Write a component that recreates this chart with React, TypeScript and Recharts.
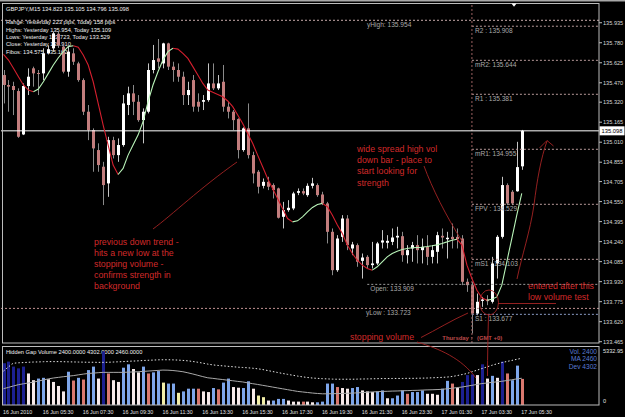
import React from 'react';
import { ComposedChart, Bar, Line, XAxis, YAxis, ReferenceLine, Cell } from 'recharts';

const FONT = '"Liberation Sans", Arial, sans-serif';

// GBPJPY M15 candles, 16 Jun 03:30 .. 17 Jun 05:30
const opens = [
  135.53, 135.453, 135.445, 135.406, 135.07, 135.445, 135.582, 135.546, 135.543, 135.7,
  135.737, 135.85, 135.75, 135.556, 135.698, 135.62, 135.491, 135.246, 135.104, 134.949,
  134.82, 134.691, 135.026, 134.91, 134.988, 135.298, 135.388, 135.323, 135.181, 135.246,
  135.569, 135.659, 135.62, 135.775, 135.595, 135.569, 135.517, 135.375, 135.491, 135.323,
  135.323, 135.336, 135.465, 135.427, 135.478, 135.285, 135.246, 135.189, 134.949, 135.117,
  134.91, 134.781, 134.672, 134.703, 134.678, 134.652, 134.432, 134.484, 134.497, 134.618,
  134.631, 134.6, 134.672, 134.678, 134.605, 134.536, 134.316, 134.019, 134.277, 134.419,
  134.187, 134.213, 134.091, 134.122, 134.058, 134.071, 134.233, 134.231, 134.238, 134.272,
  134.282, 134.135, 134.187, 134.213, 134.174, 134.2, 134.122, 134.161, 134.285, 134.259,
  134.277, 134.277, 134.264, 133.929, 133.903, 133.683, 133.781, 133.792, 133.774, 134.071,
  134.277, 134.678, 134.626, 134.63, 134.823,
];
const highs = [
  135.569, 135.491, 135.478, 135.427, 135.465, 135.582, 135.595, 135.569, 135.737, 135.76,
  135.866, 135.87, 135.775, 135.75, 135.737, 135.633, 135.504, 135.298, 135.117, 135.001,
  134.858, 135.052, 135.052, 135.039, 135.375, 135.44, 135.453, 135.375, 135.272, 135.62,
  135.763, 135.809, 135.78, 135.78, 135.633, 135.62, 135.556, 135.478, 135.53, 135.388,
  135.375, 135.62, 135.62, 135.53, 135.608, 135.323, 135.259, 135.195, 135.125, 135.31,
  134.936, 134.794, 134.729, 134.742, 134.691, 134.658, 134.548, 134.561, 134.626, 134.652,
  134.652, 134.691, 134.734, 134.691, 134.626, 134.548, 134.342, 134.29, 134.445, 134.445,
  134.238, 134.226, 134.148, 134.135, 134.238, 134.238, 134.329, 134.29, 134.342, 134.355,
  134.316, 134.213, 134.238, 134.29, 134.264, 134.29, 134.213, 134.316, 134.342, 134.316,
  134.38, 134.342, 134.29, 133.954, 133.929, 133.838, 133.812, 133.825, 134.122, 134.29,
  134.742, 134.691, 134.639, 135.013, 135.105,
];
const lows = [
  135.31, 135.246, 135.22, 135.044, 135.065, 135.375, 135.44, 135.375, 135.491, 135.69,
  135.711, 135.74, 135.543, 135.517, 135.608, 135.478, 135.22, 135.026, 134.781, 134.781,
  134.523, 134.587, 134.884, 134.858, 134.975, 135.22, 135.22, 135.168, 135.001, 135.233,
  135.543, 135.582, 135.582, 135.569, 135.478, 135.478, 135.298, 135.298, 135.246, 135.246,
  135.259, 135.323, 135.414, 135.414, 135.246, 135.194, 135.104, 134.884, 134.936, 134.884,
  134.691, 134.613, 134.652, 134.639, 134.574, 134.419, 134.342, 134.471, 134.484, 134.6,
  134.6, 134.587, 134.652, 134.587, 134.523, 134.226, 133.98, 134.006, 134.238, 134.174,
  134.135, 134.045, 133.954, 134.032, 134.032, 134.058, 134.187, 134.187, 134.213, 134.187,
  134.084, 134.071, 134.084, 134.071, 134.071, 134.058, 134.071, 134.071, 134.187, 134.109,
  134.187, 134.187, 133.903, 133.851, 133.529, 133.67, 133.735, 133.748, 133.761, 133.954,
  134.264, 134.523, 134.523, 134.626, 134.796,
];
const closes = [
  135.453, 135.44, 135.414, 135.052, 135.445, 135.517, 135.543, 135.543, 135.698, 135.73,
  135.853, 135.76, 135.556, 135.711, 135.633, 135.491, 135.246, 135.104, 134.962, 134.833,
  134.678, 135.026, 134.91, 134.988, 135.31, 135.388, 135.323, 135.181, 135.246, 135.569,
  135.646, 135.633, 135.775, 135.595, 135.569, 135.517, 135.375, 135.414, 135.285, 135.285,
  135.336, 135.465, 135.427, 135.465, 135.285, 135.246, 135.181, 134.949, 135.117, 134.91,
  134.768, 134.665, 134.703, 134.665, 134.639, 134.425, 134.484, 134.502, 134.613, 134.631,
  134.613, 134.672, 134.691, 134.6, 134.536, 134.316, 134.019, 134.264, 134.419, 134.213,
  134.218, 134.084, 134.117, 134.058, 134.071, 134.226, 134.249, 134.246, 134.272, 134.285,
  134.135, 134.174, 134.213, 134.174, 134.2, 134.122, 134.174, 134.29, 134.272, 134.27,
  134.259, 134.259, 133.929, 133.903, 133.683, 133.774, 133.792, 133.779, 134.071, 134.277,
  134.678, 134.536, 134.536, 134.817, 135.098,
];
// coloured moving average drawn over the candles
const maLine = [
  135.69, 135.646, 135.582, 135.517, 135.453, 135.414, 135.401, 135.422, 135.478, 135.543,
  135.608, 135.664, 135.711, 135.75, 135.757, 135.745, 135.685, 135.608, 135.478, 135.31,
  135.143, 134.988, 134.833, 134.76, 134.807, 134.91, 134.988, 135.065, 135.168, 135.323,
  135.453, 135.556, 135.646, 135.711, 135.737, 135.731, 135.698, 135.659, 135.595, 135.53,
  135.465, 135.414, 135.396, 135.38, 135.362, 135.329, 135.285, 135.22, 135.155, 135.078,
  135.001, 134.91, 134.82, 134.729, 134.652, 134.574, 134.497, 134.419, 134.393, 134.401,
  134.432, 134.471, 134.505, 134.528, 134.536, 134.51, 134.445, 134.368, 134.303, 134.213,
  134.148, 134.096, 134.058, 134.032, 134.019, 134.045, 134.084, 134.122, 134.148, 134.166,
  134.179, 134.187, 134.192, 134.195, 134.197, 134.202, 134.208, 134.215, 134.226, 134.238,
  134.251, 134.259, 134.213, 134.058, 133.954, 133.864, 133.805, 133.786, 133.794, 133.812,
  133.903, 134.084, 134.264, 134.445, 134.613,
];

// Hidden Gap Volume panel
const volumes = [
  3840, 3990, 3530, 3370, 3530, 2900, 2280, 2430, 2500, 2370,
  2120, 1750, 1250, 3060, 2250, 2500, 2340, 3210, 3530, 2430,
  4930, 2900, 2280, 2120, 3430, 3740, 3310, 3000, 3530, 2900,
  3000, 3120, 2060, 1970, 1970, 1120, 1250, 1500, 1500, 1500,
  1250, 1190, 1560, 1440, 2060, 2430, 1650, 1590, 1560, 2180,
  1500, 870, 720, 410, 410, 560, 560, 410, 310, 310,
  310, 310, 250, 250, 310, 1970, 1970, 1650, 1560, 1500,
  1560, 1650, 1340, 1250, 1190, 1250, 1340, 620, 620, 870,
  1340, 1030, 1190, 1190, 1340, 1030, 1030, 940, 1500, 2220,
  1970, 1560, 2120, 2750, 2810, 2750, 3740, 2430, 2680, 2500,
  3990, 2900, 2280, 3620, 2400,
];
const volCodes = [
  'N', 'N', 'N', 'N', 'N', 'W', 'W', 'B', 'B', 'W',
  'W', 'W', 'W', 'B', 'S', 'B', 'S', 'B', 'B', 'W',
  'N', 'S', 'W', 'W', 'B', 'B', 'W', 'W', 'B', 'S',
  'B', 'B', 'Y', 'B', 'B', 'Y', 'B', 'B', 'B', 'S',
  'W', 'W', 'B', 'S', 'B', 'B', 'W', 'W', 'B', 'B',
  'W', 'Y', 'Y', 'W', 'B', 'B', 'B', 'W', 'W', 'W',
  'S', 'W', 'W', 'B', 'B', 'B', 'B', 'S', 'W', 'W',
  'B', 'B', 'W', 'W', 'W', 'B', 'B', 'W', 'B', 'B',
  'B', 'S', 'B', 'B', 'B', 'W', 'W', 'W', 'B', 'B',
  'S', 'W', 'N', 'N', 'N', 'W', 'N', 'W', 'B', 'W',
  'N', 'S', 'B', 'B', 'S',
];
const volAverage = [
  1500, 1620, 1750, 1870, 1950, 2030, 2100, 2200, 2300, 2400,
  2480, 2540, 2600, 2650, 2700, 2770, 2840, 2900, 2930, 2970,
  3000, 3000, 3000, 3000, 3000, 3020, 3040, 3060, 3090, 3120,
  3150, 3180, 3210, 3200, 3170, 3120, 3060, 2960, 2850, 2730,
  2610, 2500, 2450, 2390, 2340, 2280, 2230, 2170, 2120, 2040,
  1960, 1890, 1810, 1730, 1650, 1570, 1490, 1410, 1330, 1250,
  1200, 1150, 1100, 1060, 1030, 1030, 1040, 1050, 1060, 1080,
  1090, 1120, 1140, 1170, 1200, 1220, 1250, 1260, 1280, 1290,
  1310, 1320, 1340, 1350, 1370, 1390, 1400, 1420, 1440, 1490,
  1540, 1600, 1650, 1730, 1810, 1890, 1970, 2020, 2080, 2130,
  2180, 2250, 2320, 2400, 2460,
];
const volUpper = [
  3120, 3500, 3830, 3880, 3900, 3930, 3950, 3960, 3980, 3990,
  3990, 3990, 3980, 3970, 3960, 3950, 3940, 3930, 3930, 3920,
  3920, 3930, 3950, 3970, 3990, 4020, 4040, 4060, 4090, 4110,
  4130, 4150, 4160, 4160, 4150, 4130, 4100, 4060, 4000, 3930,
  3850, 3760, 3690, 3640, 3600, 3560, 3520, 3480, 3450, 3420,
  3380, 3330, 3260, 3170, 3080, 2990, 2900, 2820, 2740, 2660,
  2590, 2530, 2480, 2450, 2420, 2400, 2380, 2370, 2370, 2370,
  2370, 2380, 2390, 2400, 2410, 2420, 2430, 2430, 2440, 2440,
  2440, 2450, 2450, 2460, 2470, 2480, 2500, 2520, 2540, 2570,
  2620, 2700, 2800, 2900, 3050, 3200, 3350, 3500, 3650, 3780,
  3900, 4000, 4100, 4200, 4300,
];

const priceTicks = [
  135.935, 135.78, 135.625, 135.47, 135.32, 135.165, 135.01, 134.855, 134.705,
  134.55, 134.395, 134.24, 134.085, 133.93, 133.775, 133.62, 133.465,
];
const timeLabels = [
  '16 Jun 2010', '16 Jun 05:30', '16 Jun 07:30', '16 Jun 09:30', '16 Jun 11:30',
  '16 Jun 13:30', '16 Jun 15:30', '16 Jun 17:30', '16 Jun 19:30', '16 Jun 21:30',
  '16 Jun 23:30', '17 Jun 01:30', '17 Jun 03:30', '17 Jun 05:30',
];
const pivotNames = ['R2 : ', 'mR2: ', 'R1 : ', 'mR1: ', 'FPV : ', 'mS1 : ', 'S1 : '];
const pivotValues = [135.908, 135.644, 135.381, 134.955, 134.529, 134.103, 133.677];
const pivotColors = ['#b89a9a', '#b89a9a', '#b89a9a', '#b89a9a', '#b89a9a', '#b89a9a', '#8b9cc6'];

const infoLines = [
  'GBPJPY,M15  134.823 135.105 134.796 135.098',
  'Range: Yesterday 223 pips, Today 158 pips',
  'Highs: Yesterday 135.954, Today 135.109',
  'Lows:  Yesterday 133.723, Today 133.529',
  'Close: Yesterday 133.910',
  'Fibos: 134.575, 135.162',
];

const VOL_COLORS: Record<string, string> = {
  N: '#1c2090',
  B: '#7ea6ea',
  W: '#f7eaea',
  S: '#d9786f',
  Y: '#f2eea8',
};

const SLOTS = 120; // bars + empty chart shift on the right
const DAY_START = 94;
const OPEN_START = 73;

const rows = Array.from({ length: SLOTS }, (_, i) => {
  if (i >= opens.length) return { i };
  const m = maLine[i];
  const prev = maLine[i - 1];
  const next = maLine[i + 1];
  const rising = (prev !== undefined && m > prev) || (next !== undefined && next > m);
  const falling = (prev !== undefined && m <= prev) || (next !== undefined && next <= m);
  return {
    i,
    o: opens[i],
    h: highs[i],
    l: lows[i],
    c: closes[i],
    range: [lows[i], highs[i]],
    maUp: rising ? m : null,
    maDown: falling ? m : null,
    vol: volumes[i],
    vma: volAverage[i],
    vup: volUpper[i],
  };
});

const timeTicks = timeLabels.map((_, k) => k * 8);

function Candle(props: any) {
  const { x, y, width, height, payload } = props;
  if (!payload || payload.o == null) return null;
  const { o, h, l, c } = payload;
  const top = Math.min(y, y + height);
  const span = Math.abs(height);
  const toY = (p: number) => top + ((h - p) / (h - l || 1)) * span;
  const bull = c >= o;
  const cx = Math.round(x + width / 2) + 0.5;
  const bTop = toY(Math.max(o, c));
  const bBot = toY(Math.min(o, c));
  return (
    <g>
      <line x1={cx} x2={cx} y1={top} y2={top + span} stroke={bull ? '#c4c4c4' : '#8a8a8a'} strokeWidth={1} />
      <rect x={cx - 1.5} y={bTop} width={3} height={Math.max(bBot - bTop, 1)} fill={bull ? '#ffffff' : '#c27d7d'} />
    </g>
  );
}

function VolBar(props: any) {
  const { x, y, width, height, fill } = props;
  if (!height || height <= 0) return null;
  return <rect x={Math.round(x + width / 2) - 1} y={y} width={3} height={height} fill={fill} />;
}

const levelLabel = (text: string, color: string, fixedX?: number) => (p: any) => {
  const vb = p.viewBox || {};
  return (
    <text x={fixedX ?? vb.x + 3} y={vb.y + 6.5} fill={color} fontSize={6.6} fontFamily={FONT} style={{ whiteSpace: 'pre' }}>
      {text}
    </text>
  );
};

const extendedLine = (p: any) => (
  <line x1={p.x1} y1={p.y1} x2={p.x2 + 2.5} y2={p.y2} stroke={p.stroke} strokeDasharray={p.strokeDasharray} strokeWidth={1} />
);

const dayLabel = (p: any) => {
  const vb = p.viewBox || {};
  const y = vb.y + vb.height - 3;
  return (
    <g fontFamily={FONT} fontSize={5.9} fontWeight="bold" fill="#bf4b4b">
      <text x={vb.x + 0.5} y={y} textAnchor="end">Thursday :</text>
      <text x={vb.x + 5} y={y}>(GMT +0)</text>
    </g>
  );
};

const priceBox = (p: any) => {
  const vb = p.viewBox || {};
  const right = vb.x + vb.width;
  return (
    <g>
      <rect x={right + 0.5} y={vb.y - 4.5} width={25} height={9} fill="#ffffff" />
      <text x={right + 2.5} y={vb.y + 2} fill="#000000" fontSize={5.8} fontFamily={FONT}>135.098</text>
    </g>
  );
};

function TimeTick(props: any) {
  const { x, y, payload } = props;
  return (
    <text x={x - 0.5} y={y + 8.5} fill="#e2e2e2" fontSize={5.3} fontFamily={FONT}>
      {timeLabels[payload.value / 8]}
    </text>
  );
}

function VolTick(props: any) {
  const { x, y, payload } = props;
  const top = payload.value > 0;
  return (
    <text x={x + 4} y={top ? y + 5.5 : y - 2} fill="#e2e2e2" fontSize={5.6} fontFamily={FONT}>
      {top ? payload.value.toFixed(2) : '0'}
    </text>
  );
}

const RED = '#d22a2a';
const INK = '#a52424';

export default function App() {
  return (
    <div style={{ position: 'absolute', left: 0, top: 0, width: 625, height: 417, background: '#000', overflow: 'hidden' }}>
      {/* texts drawn behind the bars */}
      <svg width={625} height={417} style={{ position: 'absolute', left: 0, top: 0 }}>
        <g fontFamily={FONT} fontSize={5.7} fill="#f0f0f0" style={{ whiteSpace: 'pre' }}>
          {infoLines.map((t, k) => (
            <text key={k} x={6} y={[10.5, 24, 31.5, 39, 46.3, 53.6][k]}>{t}</text>
          ))}
          <text x={6} y={353.5}>Hidden Gap Volume 2400.0000 4302.0000 2460.0000</text>
        </g>
        <g fontFamily={FONT} fontSize={6.6} fill="#5a7bd4" textAnchor="end">
          <text x={597} y={353.5}>Vol. 2400</text>
          <text x={597} y={361.3}>MA 2460</text>
          <text x={597} y={369}>Dev 4302</text>
        </g>
      </svg>

      <div style={{ position: 'absolute', left: 0, top: 0 }}>
        <ComposedChart width={625} height={345} data={rows} margin={{ top: 3.5, right: 0, bottom: 2, left: 1 }}>
          <XAxis dataKey="i" type="category" hide />
          <YAxis
            orientation="right"
            type="number"
            domain={[133.455, 136.084]}
            allowDataOverflow
            ticks={priceTicks}
            interval={0}
            width={26}
            tickFormatter={(v: number) => v.toFixed(3)}
            tick={{ fill: '#d8d8d8', fontSize: 5.6, fontFamily: FONT }}
            tickSize={3}
            tickMargin={1}
            axisLine={false}
            tickLine={{ stroke: '#bdbdbd' }}
          />
          <ReferenceLine y={135.954} stroke="#c9abab" strokeDasharray="2 2" label={levelLabel('yHigh: 135.954', '#a9a9a9', 367)} />
          <ReferenceLine y={133.723} stroke="#c09292" strokeDasharray="2 2" label={levelLabel('yLow : 133.723', '#a9a9a9', 366)} />
          <ReferenceLine
            segment={[{ x: OPEN_START, y: 133.909 }, { x: SLOTS - 1, y: 133.909 }]}
            stroke="#9a9a9a"
            strokeDasharray="2 2"
            shape={extendedLine}
            label={levelLabel('Open: 133.909', '#a9a9a9')}
          />
          {pivotValues.map((v, k) => (
            <ReferenceLine
              key={k}
              segment={[{ x: DAY_START, y: v }, { x: SLOTS - 1, y: v }]}
              stroke={pivotColors[k]}
              strokeDasharray="2 2"
              shape={extendedLine}
              label={levelLabel(pivotNames[k] + v.toFixed(3), '#a9a9a9')}
            />
          ))}
          <ReferenceLine x={DAY_START} stroke="#9c6262" strokeDasharray="2 2" label={dayLabel} />
          <ReferenceLine y={135.098} stroke="#ffffff" strokeWidth={1} label={priceBox} />
          <Bar dataKey="range" barSize={3} shape={Candle} isAnimationActive={false} />
          <Line dataKey="maDown" type="linear" stroke="#d41f2e" strokeWidth={1.1} dot={false} activeDot={false} connectNulls={false} isAnimationActive={false} />
          <Line dataKey="maUp" type="linear" stroke="#b8f3b8" strokeWidth={1.1} dot={false} activeDot={false} connectNulls={false} isAnimationActive={false} />
        </ComposedChart>
      </div>

      <div style={{ position: 'absolute', left: 0, top: 345 }}>
        <ComposedChart width={625} height={72} data={rows} margin={{ top: 2, right: 0, bottom: 0, left: 1 }}>
          <XAxis
            dataKey="i"
            type="category"
            height={12}
            ticks={timeTicks}
            interval={0}
            tick={TimeTick}
            tickLine={false}
            tickSize={0}
            tickMargin={0}
            axisLine={false}
          />
          <YAxis
            orientation="right"
            type="number"
            domain={[0, 5332.95]}
            allowDataOverflow
            ticks={[0, 5332.95]}
            interval={0}
            width={26}
            tick={VolTick}
            tickLine={false}
            tickSize={0}
            tickMargin={0}
            axisLine={false}
          />
          <Bar dataKey="vol" barSize={3} shape={VolBar} isAnimationActive={false}>
            {rows.map((r: any) => (
              <Cell key={r.i} fill={r.vol ? VOL_COLORS[volCodes[r.i]] : 'none'} />
            ))}
          </Bar>
          <Line dataKey="vma" type="monotone" stroke="#a9a9a9" strokeWidth={1} dot={false} activeDot={false} isAnimationActive={false} />
          <Line dataKey="vup" type="monotone" stroke="#e6e6e6" strokeWidth={1} strokeDasharray="1.5 2" dot={false} activeDot={false} isAnimationActive={false} />
        </ComposedChart>
      </div>

      {/* frames and hand-drawn notes on top */}
      <svg width={625} height={417} style={{ position: 'absolute', left: 0, top: 0, pointerEvents: 'none' }}>
        <rect x={0} y={0} width={625} height={1.5} fill="#a8a8a8" />
        <rect x={2.5} y={3.5} width={596.5} height={339.5} fill="none" stroke="#bcbcbc" />
        <rect x={2.5} y={346.5} width={596.5} height={58.5} fill="none" stroke="#bcbcbc" />
        <polygon points="511.5,3.5 516.5,3.5 514,6.8" fill="#ffffff" />

        <g fill="none" stroke={INK} strokeWidth={0.9}>
          <path d="M153,229 C172,215 200,188 237,162" />
          <path d="M424,166 C432,188 446,216 462,241" />
          <path d="M421,337.5 C436,330 452,320 468,313" />
          <path d="M417,342 C440,349 461,358 476,378" />
          <ellipse cx={489} cy={302.5} rx={9.5} ry={12.5} />
          <path d="M488.5,315 C488,335 487.5,355 487.5,376" />
          <path d="M498,303.5 L556,303.5" />
          <path d="M517,279 C522,255 530,232 534,205 C537,180 541,158 547,141" />
          <path d="M539.5,148 L547,140.5 L553.5,146" />
        </g>

        <g fontFamily={FONT} fontSize={8.8} fill={RED}>
          <text x={94} y={244.5}>previous down trend -</text>
          <text x={94} y={255.6}>hits a new low at the</text>
          <text x={94} y={266.8}>stopping volume -</text>
          <text x={94} y={277.9}>confirms strength in</text>
          <text x={94} y={289}>background</text>
          <text x={357} y={152}>wide spread high vol</text>
          <text x={357} y={163.2}>down bar - place to</text>
          <text x={357} y={174.4}>start looking for</text>
          <text x={357} y={185.5}>strength</text>
          <text x={528} y={288.5}>entered after this</text>
          <text x={528} y={299.5}>low volume test</text>
          <text x={350} y={339.6}>stopping volume</text>
        </g>
      </svg>
    </div>
  );
}
